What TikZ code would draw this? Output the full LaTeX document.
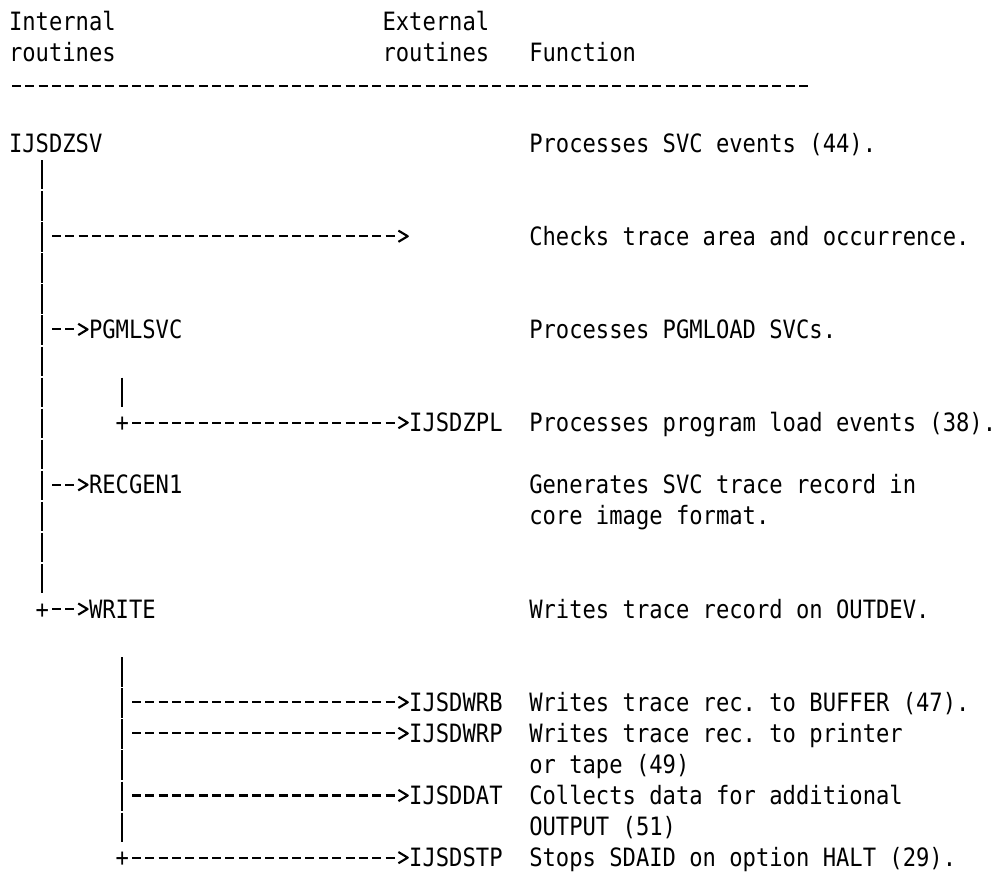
\documentclass[tikz,border=0pt]{standalone}
\usepackage{fontspec}
\newfontfamily\dgmono[FakeStretch=0.8779]{DejaVu Sans Mono}
\newcommand\dgtext{\dgmono\fontsize{18.93pt}{23.3pt}\selectfont\frenchspacing}
\usetikzlibrary{calc,arrows.meta}

% An open ">" head; the shaft stops at the back of the head.
\pgfdeclarearrow{
  name = Chevron,
  defaults = {length = 7pt, width = 8.4pt},
  setup code = {
    \pgfarrowssettipend{0pt}
    \pgfarrowssetbackend{-\pgfarrowlength}
    \pgfarrowssetlineend{-\pgfarrowlength}
    \pgfarrowssavethe\pgfarrowlength
    \pgfarrowssavethe\pgfarrowwidth
  },
  drawing code = {
    \pgfsetdash{}{0pt}
    \pgfsetroundjoin
    \pgfpathmoveto{\pgfqpoint{-\pgfarrowlength}{.5\pgfarrowwidth}}
    \pgfpathlineto{\pgfqpoint{0pt}{0pt}}
    \pgfpathlineto{\pgfqpoint{-\pgfarrowlength}{-.5\pgfarrowwidth}}
    \pgfusepathqstroke
  },
  parameters = {\the\pgfarrowlength,\the\pgfarrowwidth},
}

\begin{document}
\begin{tikzpicture}[
  % one x unit = one character column, one y unit = one text line
  x=10.005pt, y=-23.3025pt,
  txt/.style={font=\dgtext, inner sep=0pt, outer sep=0pt, anchor=base west},
  rule/.style={line width=1.6pt, dash pattern=on 6.75pt off 3.255pt},
  link/.style={rule, -{Chevron}},
  bar/.style={line width=1.6pt, dash pattern=on 22.05pt off 1.2525pt}]

\fill[white] (-0.6747,-4.892) rectangle (74.06,23.206);
\useasboundingbox (-0.6747,-4.892) rectangle (74.06,23.206);

% column headings
\node[txt] (hin1) at (0,-3.904) {Internal};
\node[txt] (hin2) at (0,-2.906) {routines};
\node[txt] (hex1) at (28,-3.904) {External};
\node[txt] (hex2) at (28,-2.906) {routines};
\node[txt] (hfn)  at (39,-2.906) {Function};
\draw[rule] ($(hin2.base west)+(0,0.782)+(2.25pt,0pt)$) -- ($(hin2.base west)+(60,0.782)$);

% routines and their functions
\node[txt] (zsv)   at (0,0)   {IJSDZSV};
\node[txt] (fzsv)  at (39,0)  {Processes SVC events (44).};
\coordinate (ext)  at ($(30,3)+(-1.1pt,6.75pt)$);
\node[txt] (fext)  at (39,3)  {Checks trace area and occurrence.};
\node[txt] (pgm)   at (6,6)   {PGMLSVC};
\node[txt] (fpgm)  at (39,6)  {Processes PGMLOAD SVCs.};
\node[txt] (jzpl)  at (8,9)   {+};
\node[txt] (zpl)   at (30,9)  {IJSDZPL};
\node[txt] (fzpl)  at (39,9)  {Processes program load events (38).};
\node[txt] (rec)   at (6,11)  {RECGEN1};
\node[txt] (frec)  at (39,11) {Generates SVC trace record in};
\node[txt] (frec2) at (39,12) {core image format.};
\node[txt] (jwr)   at (2,15)  {+};
\node[txt] (wr)    at (6,15)  {WRITE};
\node[txt] (fwr)   at (39,15) {Writes trace record on OUTDEV.};
\node[txt] (wrb)   at (30,18) {IJSDWRB};
\node[txt] (fwrb)  at (39,18) {Writes trace rec. to BUFFER (47).};
\node[txt] (wrp)   at (30,19) {IJSDWRP};
\node[txt] (fwrp)  at (39,19) {Writes trace rec. to printer};
\node[txt] (fwrp2) at (39,20) {or tape (49)};
\node[txt] (dat)   at (30,21) {IJSDDAT};
\node[txt] (fdat)  at (39,21) {Collects data for additional};
\node[txt] (fdat2) at (39,22) {OUTPUT (51)};
\node[txt] (jstp)  at (8,23)  {+};
\node[txt] (stp)   at (30,23) {IJSDSTP};
\node[txt] (fstp)  at (39,23) {Stops SDAID on option HALT (29).};

% IJSDZSV call tree
\draw[bar] ($(zsv.base west)+(2.5,1)+(0pt,17.25pt)$) -- ($(jwr.base west)+(0.5,-1)+(0pt,-4.8pt)$);
\draw[link] ($(zsv.base west)+(3,3)+(2.25pt,6.75pt)$) -- (ext);
\draw[link] ($(zsv.base west)+(3,6)+(2.25pt,6.75pt)$) -- ($(pgm.base west)+(-1.1pt,6.75pt)$);
\draw[link] ($(zsv.base west)+(3,11)+(2.25pt,6.75pt)$) -- ($(rec.base west)+(-1.1pt,6.75pt)$);
\draw[link] ($(jwr.base east)+(2.25pt,6.75pt)$) -- ($(wr.base west)+(-1.1pt,6.75pt)$);

% PGMLSVC
\draw[bar] ($(pgm.base west)+(2.5,2)+(0pt,17.25pt)$) -- ($(jzpl.base west)+(0.5,-1)+(0pt,-4.8pt)$);
\draw[link] ($(jzpl.base east)+(2.25pt,6.75pt)$) -- ($(zpl.base west)+(-1.1pt,6.75pt)$);

% WRITE
\draw[bar] ($(wr.base west)+(2.5,2)+(0pt,17.25pt)$) -- ($(jstp.base west)+(0.5,-1)+(0pt,-4.8pt)$);
\draw[link] ($(wr.base west)+(3,3)+(2.25pt,6.75pt)$) -- ($(wrb.base west)+(-1.1pt,6.75pt)$);
\draw[link] ($(wr.base west)+(3,4)+(2.25pt,6.75pt)$) -- ($(wrp.base west)+(-1.1pt,6.75pt)$);
\draw[link] ($(wr.base west)+(3,6)+(2.25pt,6.75pt)$) -- ($(dat.base west)+(-1.1pt,6.75pt)$);
\draw[link] ($(jstp.base east)+(2.25pt,6.75pt)$) -- ($(stp.base west)+(-1.1pt,6.75pt)$);
\end{tikzpicture}
\end{document}
